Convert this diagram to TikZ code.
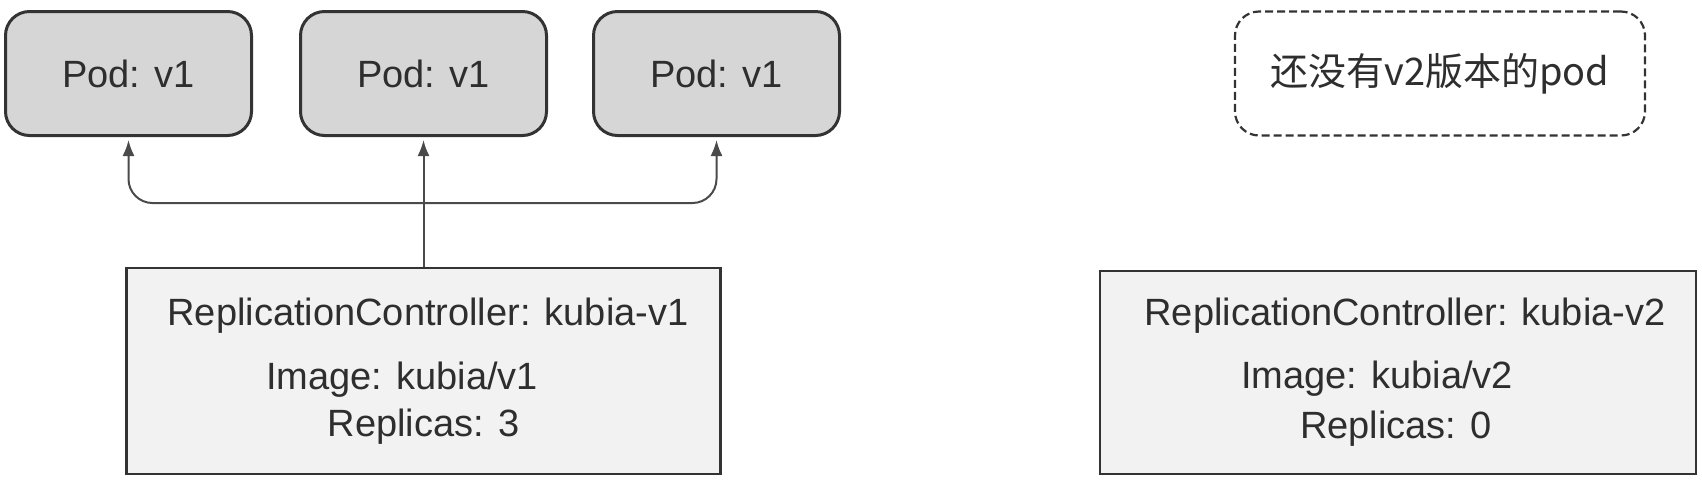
\documentclass[tikz,border=0pt]{standalone}
\usepackage{fontspec}
\setmainfont{Liberation Sans}
\newfontfamily\cjkfont{Noto Sans CJK SC}
\usetikzlibrary{arrows.meta}

\definecolor{boxline}{HTML}{333333}
\definecolor{podfill}{HTML}{D6D6D6}
\definecolor{rcfill}{HTML}{F2F2F2}
\definecolor{linkline}{HTML}{4A4A4A}

\begin{document}
\begin{tikzpicture}[x=0.5pt,y=-0.5pt,
        every node/.style={font=\fontsize{19}{23}\selectfont, text=black!82},
        pod/.style={draw=boxline, fill=podfill, line width=1.5pt, rounded corners=12pt,
            minimum width=123pt, minimum height=62pt},
        ghost/.style={draw=boxline, dash pattern=on 4pt off 2pt, line width=1.1pt,
            rounded corners=12pt, minimum width=205pt, minimum height=62pt},
        rcbox/.style={draw=boxline, fill=rcfill, line width=1.1pt,
            minimum width=297pt, minimum height=103pt},
        link/.style={draw=linkline, line width=1pt, -{Latex[length=8pt,width=6pt]},
            shorten >=1.5pt}]

        \useasboundingbox (0,0) rectangle (1702,484);

        % pods of v1
        \node[pod] (pod1) at (128.5,73.5) {Pod: v1};
        \node[pod] (pod2) at (423.5,73.5) {Pod: v1};
        \node[pod] (pod3) at (716.5,73.5) {Pod: v1};

        % no v2 pod yet
        \node[ghost] (nopod) at (1440,73.5) {\cjkfont 还没有v2版本的pod};

        % replication controllers
        \node[rcbox] (rc1) at (423.5,371) {};
        \node (rc1name) at (428,316) {ReplicationController: kubia-v1};
        \node (rc1img)  at (402,380) {Image: kubia/v1};
        \node (rc1rep)  at (423.5,427) {Replicas: 3};

        \node[rcbox, minimum width=298pt, minimum height=101.5pt] (rc2) at (1398,372.5) {};
        \node (rc2name) at (1405,316) {ReplicationController: kubia-v2};
        \node (rc2img)  at (1377,379) {Image: kubia/v2};
        \node (rc2rep)  at (1396,429) {Replicas: 0};

        % connectors
        \coordinate (hub) at (423.5,203);
        \draw[link] (rc1.north) -- (pod2.south);
        \draw[link, rounded corners=12pt] (hub) -| (pod1.south);
        \draw[link, rounded corners=12pt] (hub) -| (pod3.south);

\end{tikzpicture}
\end{document}
